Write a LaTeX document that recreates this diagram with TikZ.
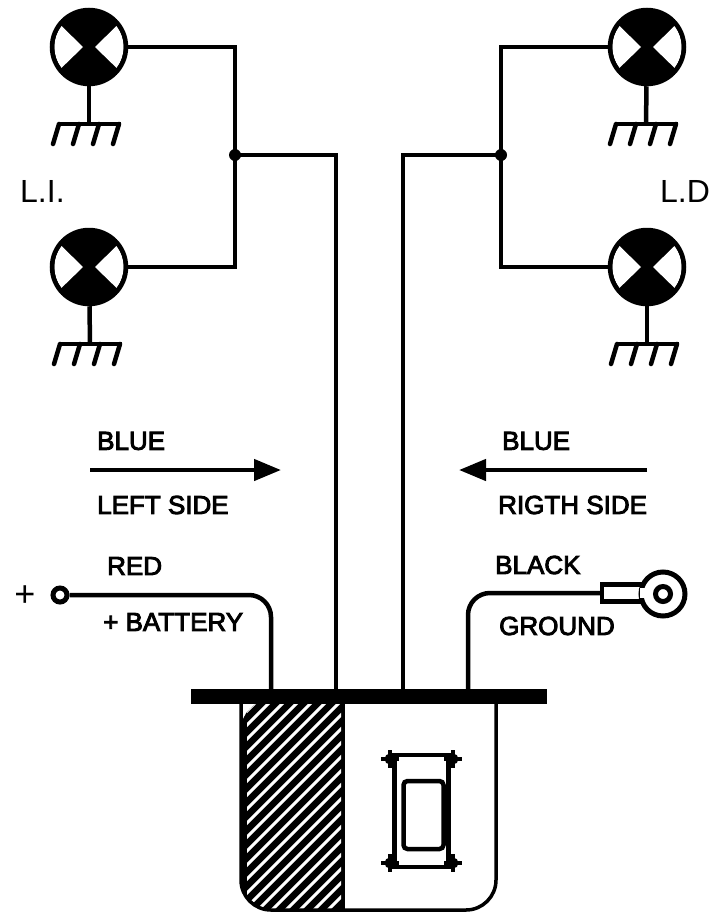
\documentclass[tikz,border=0pt]{standalone}
\usepackage{fontspec}
\setmainfont{Liberation Sans}
\newfontfamily\labelfont[FakeBold=3.5]{Liberation Sans}
\usetikzlibrary{arrows.meta}
\tikzset{
	wire/.style={line width=4.5pt},
	thinwire/.style={line width=3.5pt},
	label/.style={font=\labelfont\fontsize{26}{30}\selectfont, inner sep=0pt},
	sidemark/.style={font=\fontsize{32}{36}\selectfont, inner sep=0pt},
	lamp/.style={circle, draw, line width=4.5pt, fill=black, minimum size=74pt, inner sep=0pt,
		path picture={
			\fill[white] ([shift={(-6,0)}]path picture bounding box.center) -- ++(-21.5,-21)
				arc[start angle=218, end angle=142, radius=34] -- cycle;
			\fill[white] ([shift={(6,0)}]path picture bounding box.center) -- ++(21.5,-21)
				arc[start angle=-38, end angle=38, radius=34] -- cycle;
		}},
	junction/.style={circle, fill=black, minimum size=12pt, inner sep=0pt},
	wheel/.style={circle, fill=black, minimum size=11pt, inner sep=0pt}
}
% earth symbol hanging under a lamp
\newcommand{\earthmark}[1]{
	\draw[thinwire] ([xshift=-31pt]#1) -- ([xshift=32pt]#1);
	\foreach \dx in {-30,-10,10,30}
		\draw[line width=4.5pt, line cap=round] ([xshift=\dx pt]#1) -- ++(-6,20);
}
\begin{document}
\begin{tikzpicture}[x=1pt,y=-1pt]
\useasboundingbox (0,0) rectangle (713,913);
% lamps
\path
	(89,47) node [lamp] (lampLA) {}
	(89,267) node [lamp] (lampLB) {}
	(647,47) node [lamp] (lampRA) {}
	(647,267) node [lamp] (lampRB) {}
	(235,155) node [junction] (juncL) {}
	(501,155) node [junction] (juncR) {};
\coordinate (earthLA) at (89,124);
\coordinate (earthLB) at (90,344);
\coordinate (earthRA) at (646,124);
\coordinate (earthRB) at (647,344);
\coordinate (feedL) at (336,692);
\coordinate (feedR) at (403,692);
\coordinate (feedRed) at (271,692);
\coordinate (feedBlack) at (468,692);
\draw[wire] (lampLA) -- (earthLA);
\draw[wire] (lampLB) -- (earthLB);
\draw[wire] (lampRA) -- (earthRA);
\draw[wire] (lampRB) -- (earthRB);
\earthmark{earthLA}
\earthmark{earthLB}
\earthmark{earthRA}
\earthmark{earthRB}
\draw[wire] (lampLA) -| (juncL.center) |- (lampLB);
\draw[wire] (lampRA) -| (juncR.center) |- (lampRB);
\draw[wire] (juncL.center) -| (feedL);
\draw[wire] (juncR.center) -| (feedR);
% side labels
\path
	(20,191) node [sidemark, anchor=west] (markL) {L.I.}
	(660,191) node [sidemark, anchor=west] (markR) {L.D}
	(97,441) node [label, anchor=west] (blueL) {BLUE}
	(97,505) node [label, anchor=west] (sideL) {LEFT SIDE}
	(502,441) node [label, anchor=west] (blueR) {BLUE}
	(498,505) node [label, anchor=west] (sideR) {RIGTH SIDE}
	(107,566) node [label, anchor=west] (textRed) {RED}
	(103,622) node [label, anchor=west] (textBatt) {+ BATTERY}
	(495,565) node [label, anchor=west] (textBlack) {BLACK}
	(499,626) node [label, anchor=west] (textGround) {GROUND}
	(25,596) node [font=\fontsize{36}{40}\selectfont, inner sep=0pt] (markPlus) {+};
\coordinate (arrowLA) at (90,470);
\coordinate (arrowLB) at (281,470);
\coordinate (arrowRA) at (647,470);
\coordinate (arrowRB) at (459,470);
\draw[wire, -{Triangle[length=27pt,width=21pt]}] (arrowLA) -- (arrowLB);
\draw[wire, -{Triangle[length=27pt,width=21pt]}] (arrowRA) -- (arrowRB);
% terminals
\path
	(60,595) node [circle, draw, fill=white, line width=5pt, minimum size=14pt, inner sep=0pt] (termRed) {}
	(626,593) node [draw, fill=white, line width=4.5pt, minimum width=48pt, minimum height=17pt, inner sep=0pt] (lugNeck) {}
	(663,594) node [circle, draw, fill=white, line width=5pt, minimum size=44pt, inner sep=0pt] (lugEye) {}
	(663,594) node [circle, draw, line width=5pt, minimum size=15pt, inner sep=0pt] (lugHole) {};
\fill[white] (640,588) rectangle (648,598);
\draw[wire, rounded corners=22pt] (termRed) -| (feedRed);
\draw[wire, rounded corners=22pt] (lugNeck) -| (feedBlack);
% switch housing
\begin{scope}
\clip[rounded corners=30pt] (241,700) -- (241,910) -- (496,910) -- (496,700) -- cycle;
\fill (241,700) rectangle (345,910);
\begin{scope}
\clip (247,704) rectangle (341,908);
\foreach \i in {0,...,26}
	\draw[white, line width=3pt] (230,700+14*\i) -- ++(130,-130);
\end{scope}
\end{scope}
\draw[thinwire, rounded corners=30pt] (241,700) -- (241,910) -- (496,910) -- (496,700);
\path (369,696.5) node [fill=black, minimum width=356pt, minimum height=15pt, inner sep=0pt] (bar) {};
% car
\path
	(421.5,811) node [draw, line width=4.5pt, minimum width=54pt, minimum height=112pt, inner sep=0pt] (carBody) {}
	(423.5,815) node [draw, line width=4.5pt, rounded corners=4pt, minimum width=40pt, minimum height=68pt, inner sep=0pt] (carRoof) {}
	(390,759) node [wheel] (wheelA) {}
	(453,759) node [wheel] (wheelB) {}
	(390,863) node [wheel] (wheelC) {}
	(453,863) node [wheel] (wheelD) {};
\foreach \cx/\cy in {390/759,453/759,390/863,453/863}
	\draw[line width=4pt] (\cx-9,\cy) -- (\cx+9,\cy) (\cx,\cy-9) -- (\cx,\cy+9);
\end{tikzpicture}
\end{document}
